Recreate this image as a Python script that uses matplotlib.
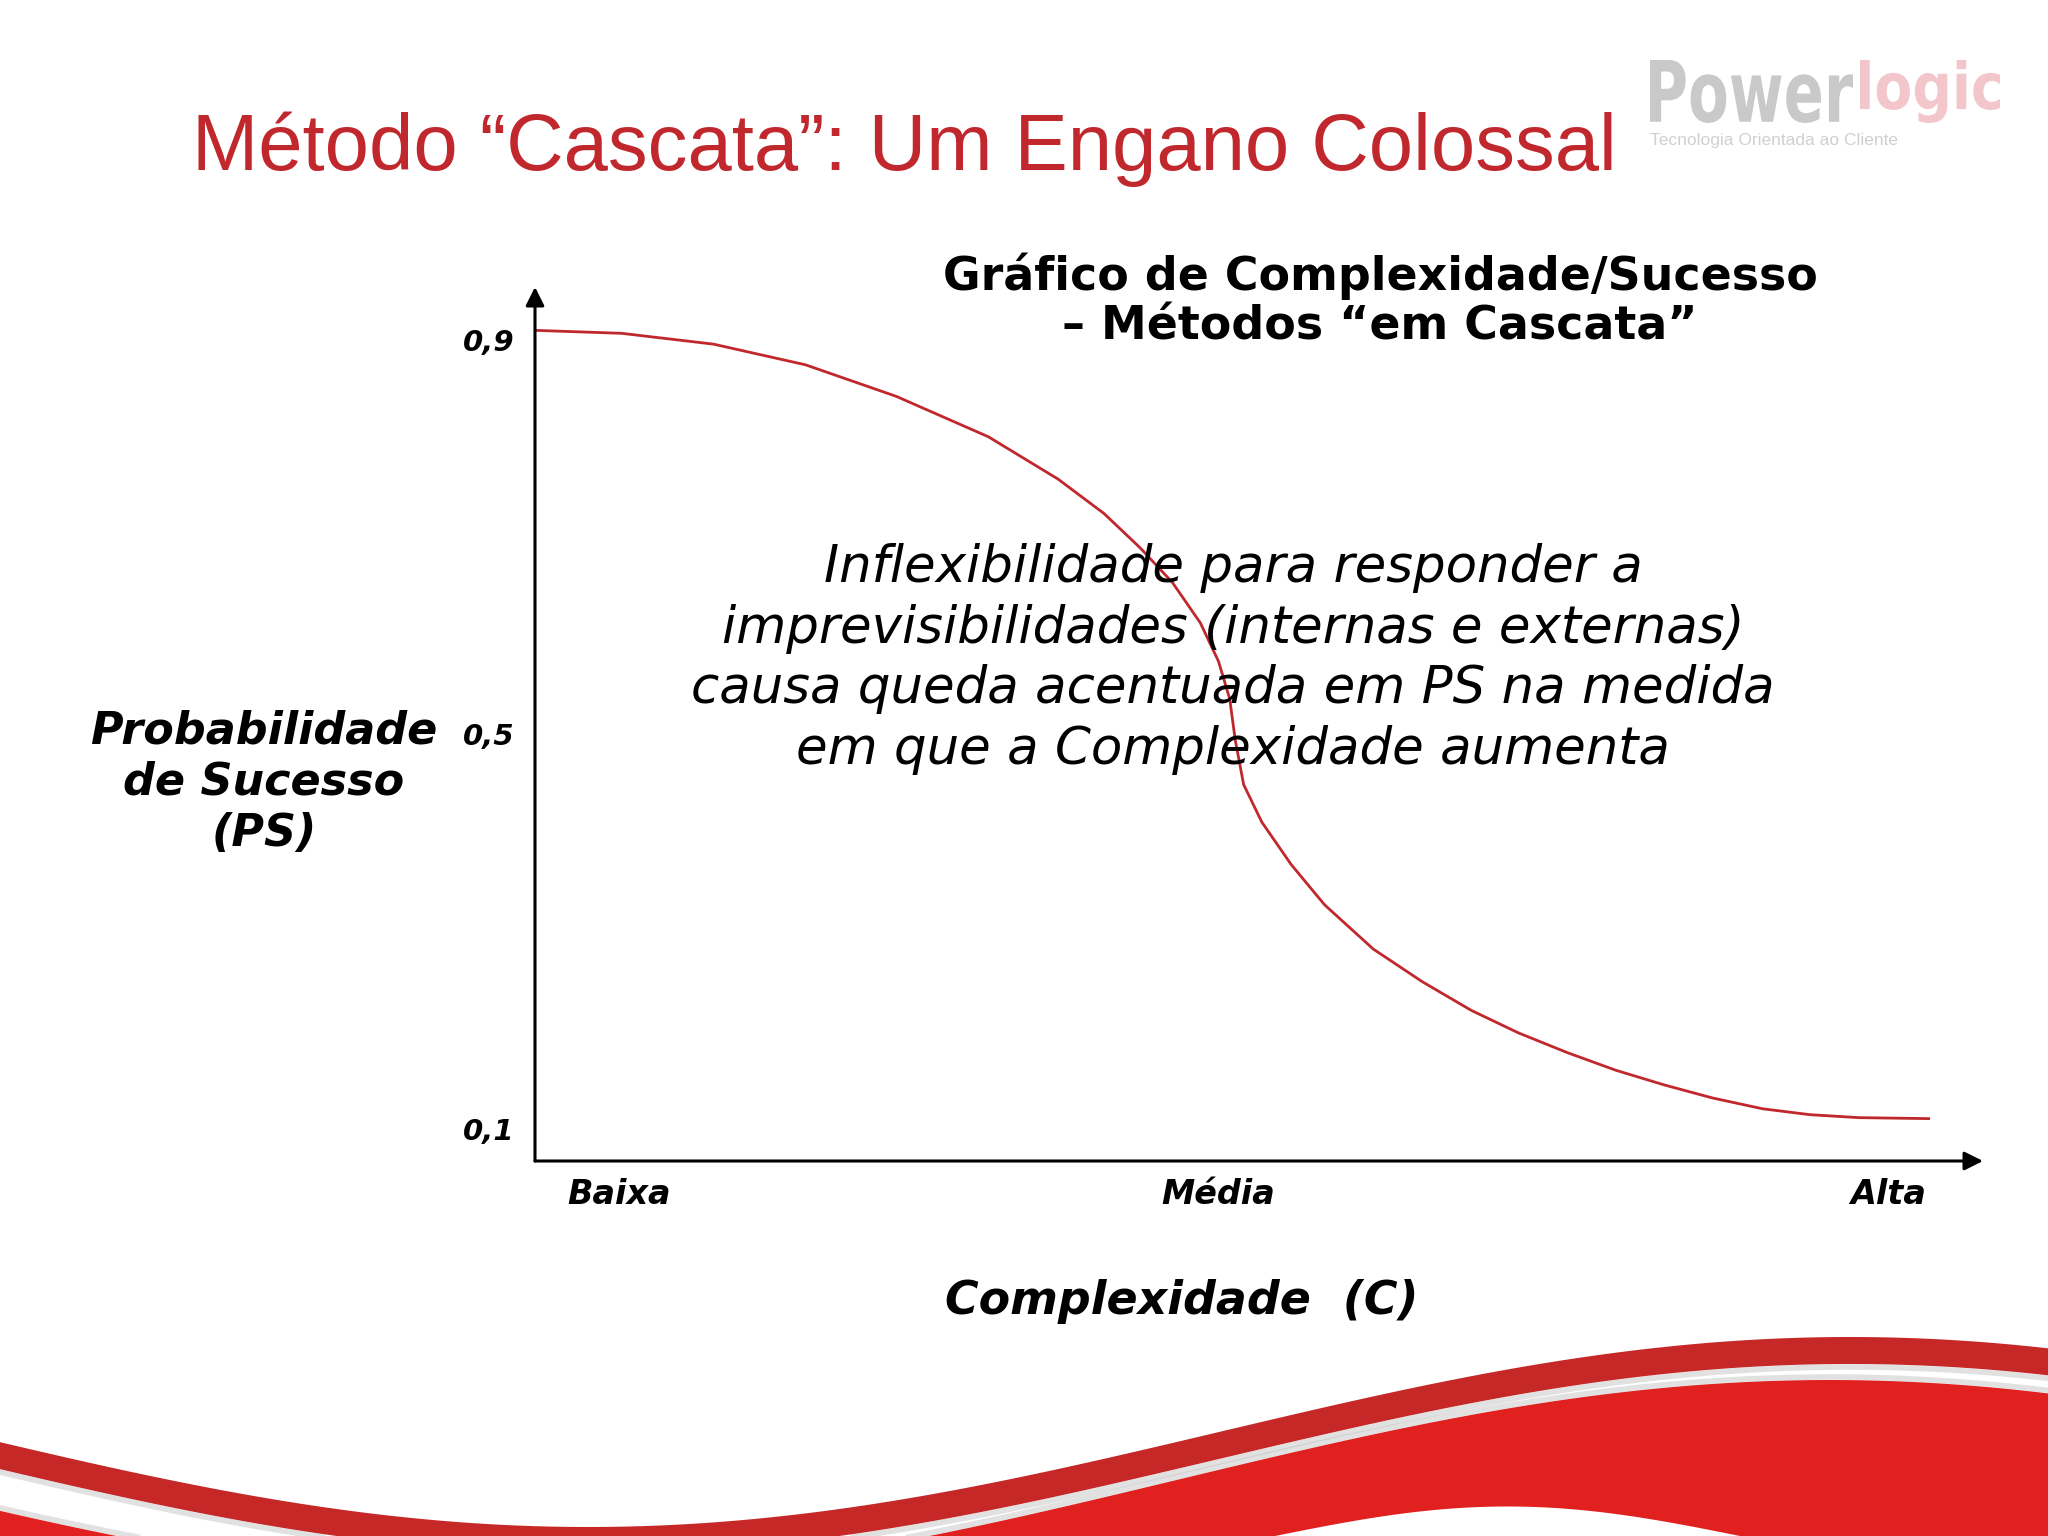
import matplotlib
matplotlib.use("Agg")
import matplotlib.pyplot as plt
import matplotlib.transforms as mtransforms
from matplotlib.textpath import TextPath
from matplotlib.patches import PathPatch
from matplotlib.font_manager import FontProperties
import numpy as np

# curve: complexity (0 = low, 10 = high) vs probability of success
complexity = [0.0, 0.62, 1.28, 1.94, 2.59, 3.25, 3.75, 4.08, 4.34, 4.57, 4.77, 4.90,
              4.98, 5.02, 5.08, 5.21, 5.42, 5.66, 6.01, 6.36, 6.71, 7.05, 7.40, 7.75,
              8.10, 8.44, 8.80, 9.14, 9.49, 10.0]
success = [0.900, 0.897, 0.886, 0.865, 0.833, 0.792, 0.749, 0.714, 0.679, 0.644, 0.603, 0.564,
           0.526, 0.484, 0.439, 0.401, 0.358, 0.317, 0.272, 0.239, 0.210, 0.187, 0.167, 0.149,
           0.134, 0.121, 0.110, 0.104, 0.101, 0.100]

ps_ticks = [0.9, 0.5, 0.1]
ps_labels = ["0,9", "0,5", "0,1"]
level_pos = [0.6, 4.9, 9.7]
level_labels = ["Baixa", "Média", "Alta"]

W, H = 2048, 1536
RED = "#c0282d"
fig = plt.figure(figsize=(W / 100, H / 100), dpi=100)


def fx(x):
    return x / W


def fy(y):
    return 1 - y / H


# slide background with the red swoosh at the bottom
bg = fig.add_axes([0, 0, 1, 1])
bg.set_xlim(0, W)
bg.set_ylim(H, 0)
bg.axis("off")
xs = np.linspace(0, W, 800)
band_top = 1432 + 95 * np.cos(np.pi * (xs - 588) / 1262)
fill_top = 1480 + 100 * np.cos(np.pi * (xs - 523) / 1307)
bg.plot(xs, band_top + 30, color="#8a8a8a", lw=4, alpha=0.25)
bg.plot(xs, fill_top - 3, color="#8a8a8a", lw=4, alpha=0.25)
bg.fill_between(xs, band_top, band_top + 27, color="#c62828", lw=0)
bg.fill_between(xs, fill_top, H + 50, color="#e1211f", lw=0)
sx = np.linspace(1272, 1742, 200)
bump = 1536 - 30 * np.cos(np.pi * (sx - 1507) / 470)
bg.fill_between(sx, bump, H + 50, color="white", lw=0)


def logo_word(word, x0, x1, top, base, color):
    # condensed bold lettering squeezed into the box of the original logo
    tp = TextPath((0, 0), word, size=100, prop=FontProperties(family="DejaVu Sans", weight="bold"))
    ext = tp.get_extents()
    tr = (mtransforms.Affine2D().translate(-ext.xmin, -ext.ymin)
          .scale((x1 - x0) / ext.width, -(base - top) / ext.height).translate(x0, base))
    bg.add_patch(PathPatch(tr.transform_path(tp), facecolor=color, lw=0))


logo_word("Power", 1650, 1853, 60, 123, "#c9c9c9")
logo_word("logic", 1860, 2000, 60, 123, "#f2c6cb")
fig.text(fx(1650), fy(141), "Tecnologia Orientada ao Cliente", fontsize=12.5, color="#d0d0d0",
         family=["Liberation Sans", "DejaVu Sans"], va="center")

# title
fig.text(fx(192), fy(170), "Método “Cascata”: Um Engano Colossal", fontsize=57.3,
         color=RED, family=["Liberation Sans", "DejaVu Sans"], va="baseline")

# chart
ax = fig.add_axes([fx(535), fy(1161), (1983 - 535) / W, (1161 - 287) / H])
ax.set_xlim(0, 10.38)
ax.set_ylim(0.057, 0.944)
ax.axis("off")
arrow = dict(arrowstyle="-|>", color="black", lw=2.2, mutation_scale=28, shrinkA=0, shrinkB=0)
ax.annotate("", xy=(0, 1), xytext=(0, 0), xycoords="axes fraction", arrowprops=arrow)
ax.annotate("", xy=(1, 0), xytext=(0, 0), xycoords="axes fraction", arrowprops=arrow)
ax.plot(complexity, success, color=RED, lw=2.0, clip_on=False,
        solid_joinstyle="round", solid_capstyle="butt")

ytrans = mtransforms.offset_copy(
    mtransforms.blended_transform_factory(fig.transFigure, ax.transData),
    fig=fig, y=-13, units="dots")
for v, lab in zip(ps_ticks, ps_labels):
    ax.text(fx(515), v, lab, transform=ytrans, ha="right", va="center",
            fontsize=21, fontweight="bold", fontstyle="italic")

xtrans = mtransforms.blended_transform_factory(ax.transData, fig.transFigure)
for p, lab in zip(level_pos, level_labels):
    ax.text(p, fy(1194), lab, transform=xtrans, ha="center", va="center",
            fontsize=24, fontweight="bold", fontstyle="italic")

fig.text(fx(264), fy(782), "Probabilidade\nde Sucesso\n(PS)", ha="center", va="center",
         multialignment="center", linespacing=1.25,
         fontsize=32, fontweight="bold", fontstyle="italic")
fig.text(fx(1182), fy(1302), "Complexidade  (C)", ha="center", va="center",
         fontsize=33, fontweight="bold", fontstyle="italic")
fig.text(fx(1380), fy(301), "Gráfico de Complexidade/Sucesso\n– Métodos “em Cascata”",
         ha="center", va="center", multialignment="center", linespacing=1.15,
         fontsize=33, fontweight="bold")
fig.text(fx(1233), fy(659),
         "Inflexibilidade para responder a\nimprevisibilidades (internas e externas)\n"
         "causa queda acentuada em PS na medida\nem que a Complexidade aumenta",
         ha="center", va="center", multialignment="center", linespacing=1.28,
         fontsize=37, fontstyle="italic")

fig.savefig("out.png", dpi=100, facecolor="white")
